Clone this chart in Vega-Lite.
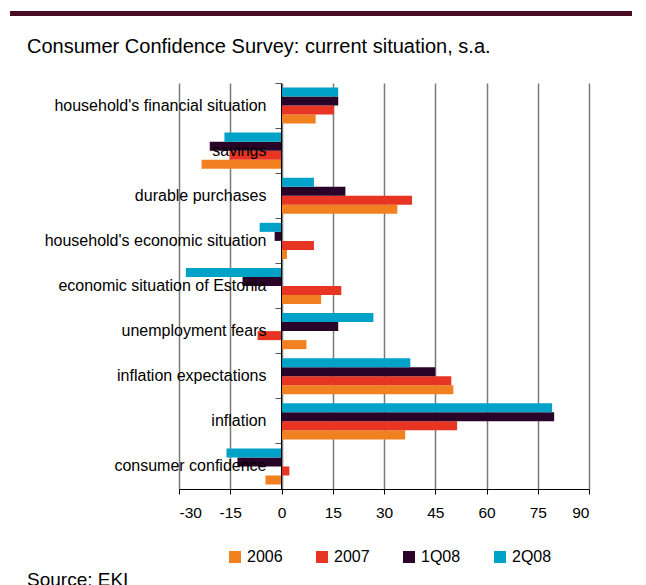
{
  "$schema": "https://vega.github.io/schema/vega-lite/v6.json",
  "padding": {"left": 10, "top": 11, "right": 0, "bottom": 0},
  "background": "white",
  "title": {"text": "Source: EKI", "orient": "bottom", "anchor": "start", "dx": 17, "font": "Liberation Sans", "fontSize": 19, "fontWeight": "normal", "color": "black", "offset": 6},
  "spacing": 20,
  "config": {"view": {"stroke": null}, "font": "Liberation Sans"},
  "vconcat": [
    {
      "width": 622,
      "height": 5,
      "view": {"fill": "#4a0c22", "stroke": null},
      "data": {"values": []},
      "mark": "point"
    },
    {
      "width": 622,
      "height": 406,
      "title": {"text": "Consumer Confidence Survey: current situation, s.a.", "anchor": "start", "frame": "group", "dx": 17, "fontSize": 20, "fontWeight": "normal", "font": "Liberation Sans", "color": "black", "offset": 26},
      "data": {"values": [
        {"cat": "household's financial situation", "series": "2006", "value": 10},
        {"cat": "household's financial situation", "series": "2007", "value": 15.4},
        {"cat": "household's financial situation", "series": "1Q08", "value": 16.6},
        {"cat": "household's financial situation", "series": "2Q08", "value": 16.6},
        {"cat": "savings", "series": "2006", "value": -23.4},
        {"cat": "savings", "series": "2007", "value": -15.2},
        {"cat": "savings", "series": "1Q08", "value": -21},
        {"cat": "savings", "series": "2Q08", "value": -16.7},
        {"cat": "durable purchases", "series": "2006", "value": 33.9},
        {"cat": "durable purchases", "series": "2007", "value": 38.2},
        {"cat": "durable purchases", "series": "1Q08", "value": 18.7},
        {"cat": "durable purchases", "series": "2Q08", "value": 9.5},
        {"cat": "household's economic situation", "series": "2006", "value": 1.6},
        {"cat": "household's economic situation", "series": "2007", "value": 9.5},
        {"cat": "household's economic situation", "series": "1Q08", "value": -2},
        {"cat": "household's economic situation", "series": "2Q08", "value": -6.4},
        {"cat": "economic situation of Estonia", "series": "2006", "value": 11.6},
        {"cat": "economic situation of Estonia", "series": "2007", "value": 17.5},
        {"cat": "economic situation of Estonia", "series": "1Q08", "value": -11.4},
        {"cat": "economic situation of Estonia", "series": "2Q08", "value": -28},
        {"cat": "unemployment fears", "series": "2006", "value": 7.3},
        {"cat": "unemployment fears", "series": "2007", "value": -7},
        {"cat": "unemployment fears", "series": "1Q08", "value": 16.6},
        {"cat": "unemployment fears", "series": "2Q08", "value": 26.9},
        {"cat": "inflation expectations", "series": "2006", "value": 50.3},
        {"cat": "inflation expectations", "series": "2007", "value": 49.7},
        {"cat": "inflation expectations", "series": "1Q08", "value": 45},
        {"cat": "inflation expectations", "series": "2Q08", "value": 37.7},
        {"cat": "inflation", "series": "2006", "value": 36.2},
        {"cat": "inflation", "series": "2007", "value": 51.4},
        {"cat": "inflation", "series": "1Q08", "value": 79.8},
        {"cat": "inflation", "series": "2Q08", "value": 79.2},
        {"cat": "consumer confidence", "series": "2006", "value": -4.7},
        {"cat": "consumer confidence", "series": "2007", "value": 2.3},
        {"cat": "consumer confidence", "series": "1Q08", "value": -12.9},
        {"cat": "consumer confidence", "series": "2Q08", "value": -16.1}
      ]},
      "mark": {"type": "bar"},
      "encoding": {
        "x": {
          "field": "value", "type": "quantitative",
          "scale": {"domain": [-30, 90], "range": [169, 579], "nice": false, "zero": false},
          "axis": {"values": [-30, -15, 0, 15, 30, 45, 60, 75, 90], "labelExpr": "'' + datum.value", "title": null, "grid": true, "gridColor": "#7a7a7a", "gridWidth": 1.5, "domainColor": "black", "tickColor": "black", "tickSize": 5, "labelFontSize": 15.5, "labelColor": "black", "labelPadding": 11, "labelFont": "Liberation Sans"}
        },
        "y": {
          "field": "cat", "type": "nominal",
          "sort": ["household's financial situation", "savings", "durable purchases", "household's economic situation", "economic situation of Estonia", "unemployment fears", "inflation expectations", "inflation", "consumer confidence"],
          "scale": {"paddingInner": 0, "paddingOuter": 0},
          "axis": {"title": null, "orient": "left", "offset": -271, "bandPosition": 0, "domainColor": "black", "tickColor": "#555555", "tickSize": 6, "labelFontSize": 16, "labelColor": "black", "labelFont": "Liberation Sans", "labelPadding": 9, "labelLimit": 320, "zindex": 1, "grid": false}
        },
        "yOffset": {"field": "series", "type": "nominal", "sort": ["2Q08", "1Q08", "2007", "2006"], "scale": {"paddingInner": 0, "paddingOuter": 0.5}},
        "color": {
          "field": "series", "type": "nominal",
          "scale": {"domain": ["2006", "2007", "1Q08", "2Q08"], "range": ["#F08020", "#E83523", "#2A0428", "#00A2C8"]},
          "legend": {"title": null, "orient": "none", "legendX": 217, "legendY": 538, "direction": "horizontal", "symbolType": "square", "symbolSize": 144, "symbolStrokeWidth": 0, "symbolOpacity": 1, "labelFontSize": 16, "labelFont": "Liberation Sans", "labelColor": "black", "labelOffset": 4, "columnPadding": 31}
        }
      }
    }
  ]
}
